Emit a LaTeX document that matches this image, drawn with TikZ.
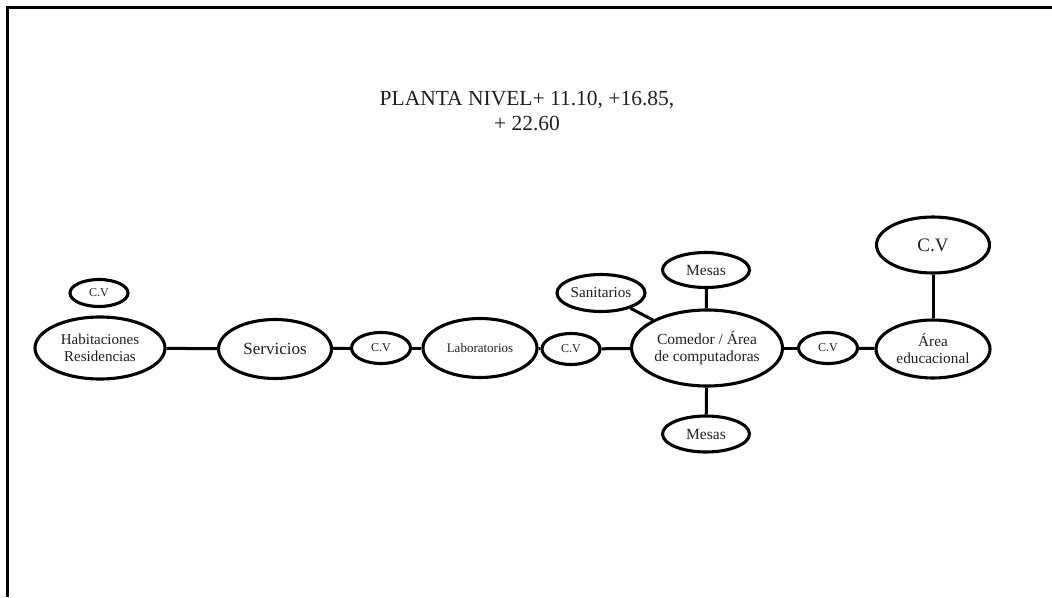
\documentclass[tikz,border=0pt]{standalone}
\usepackage{fontspec}
\setmainfont{Liberation Serif}
\usetikzlibrary{shapes.geometric}
\begin{document}
\begin{tikzpicture}[x=1pt,y=-1pt,
  bub/.style={draw=black,line width=3.1pt,ellipse,inner sep=0pt,align=center,text=black!88},
  link/.style={draw=black,line width=3pt},
  fs/.style={font=\fontsize{#1}{17}\selectfont}
]
\useasboundingbox (0,0) rectangle (1052,597);
\draw[line width=3pt] (7,597) -- (7,7) -- (1052,7);
\node[text=black!88,align=center,font=\fontsize{21.5}{25}\selectfont] (title) at (527,111) {PLANTA NIVEL+ 11.10, +16.85,\\+ 22.60};
\node[bub,fs=12,minimum width=58pt,minimum height=27pt] (cv0) at (99,293) {C.V};
\node[bub,fs=15,minimum width=130pt,minimum height=62pt] (hab) at (100,348) {Habitaciones\\Residencias};
\node[bub,fs=17,minimum width=113pt,minimum height=59pt] (serv) at (275,349) {Servicios};
\node[bub,fs=12,minimum width=59pt,minimum height=31pt] (cv1) at (381,348) {C.V};
\node[bub,fs=13,minimum width=114pt,minimum height=59pt] (lab) at (480,348) {Laboratorios};
\node[bub,fs=12,minimum width=58pt,minimum height=31pt] (cv2) at (571,349) {C.V};
\node[bub,fs=15.5,minimum width=151pt,minimum height=76pt] (com) at (707,348) {Comedor / Área\\de computadoras};
\node[bub,fs=15.5,minimum width=87pt,minimum height=35pt] (mesT) at (706,270) {Mesas};
\node[bub,fs=15.2,minimum width=88pt,minimum height=37pt] (san) at (601,293) {Sanitarios};
\node[bub,fs=15.5,minimum width=87pt,minimum height=36pt] (mesB) at (706,434) {Mesas};
\node[bub,fs=12,minimum width=59pt,minimum height=31pt] (cv3) at (828,348) {C.V};
\node[bub,fs=15.3,minimum width=114pt,minimum height=58pt] (edu) at (933,349) {Área\\educacional};
\node[bub,fs=19,minimum width=113pt,minimum height=56pt] (cv4) at (933,245) {C.V};
\draw[link] (hab) -- (serv);
\draw[link] (serv) -- (cv1);
\draw[link] (cv1) -- (lab);
\draw[link] (lab) -- (cv2);
\draw[link] (cv2) -- (com);
\draw[link] (san) -- (com);
\draw[link] (mesT) -- (com);
\draw[link] (mesB) -- (com);
\draw[link] (com) -- (cv3);
\draw[link] (cv3) -- (edu);
\draw[link] (cv4) -- (edu);
\end{tikzpicture}
\end{document}
